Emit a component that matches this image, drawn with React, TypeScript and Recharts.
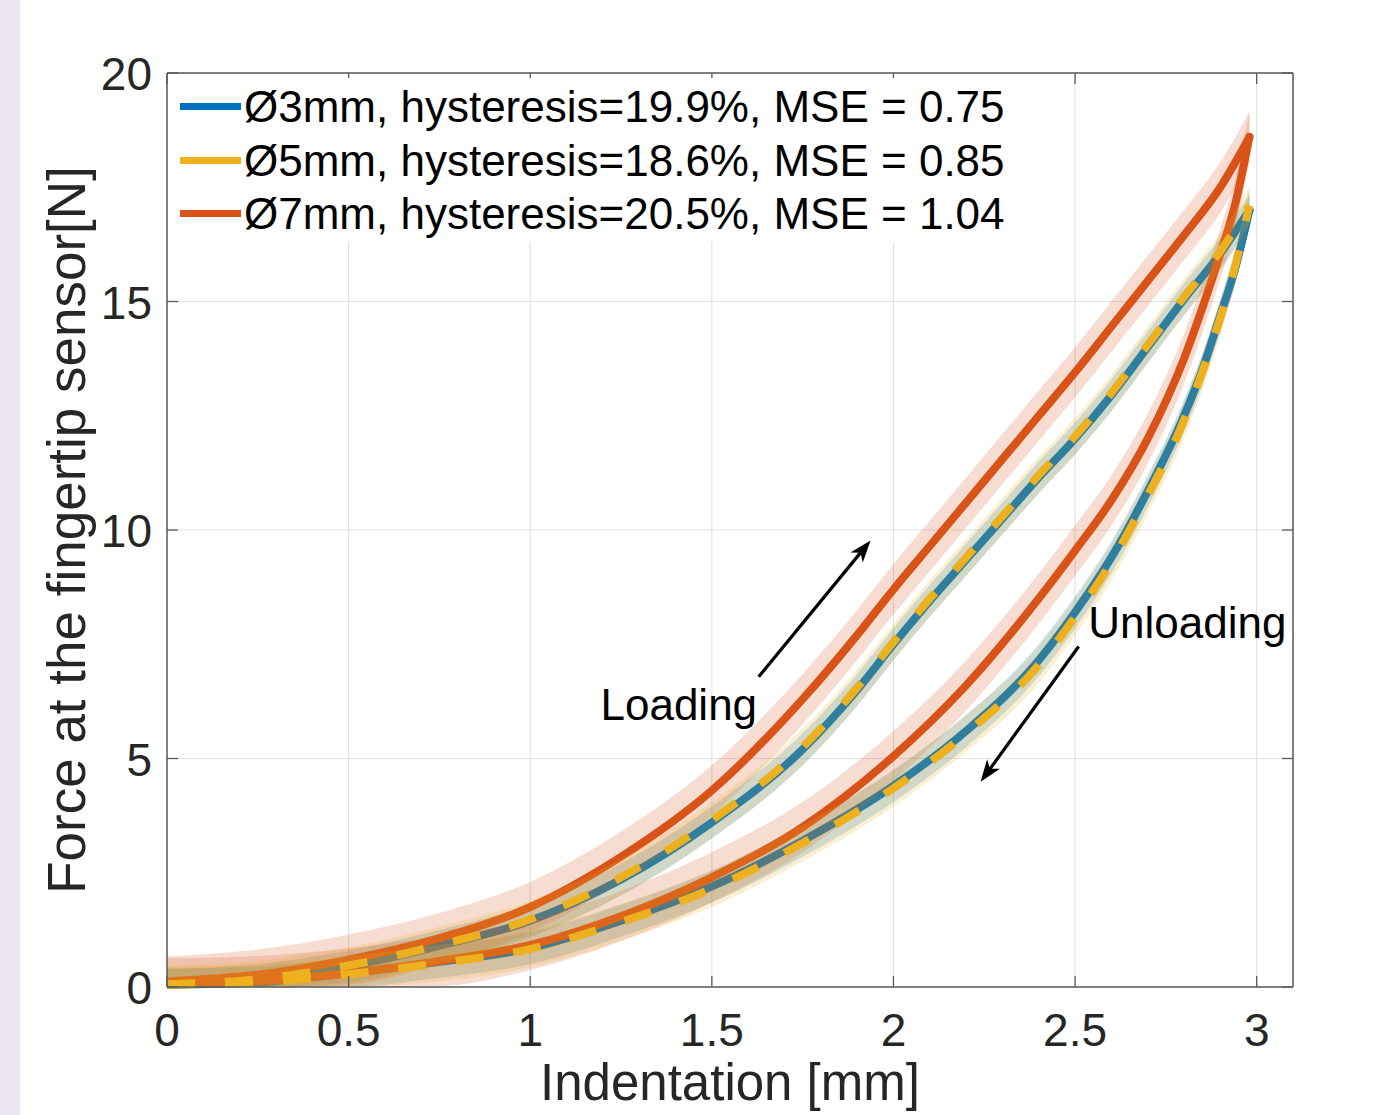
import React from 'react'
import {
  ComposedChart, Line, Area, XAxis, YAxis, CartesianGrid,
  ReferenceLine, ReferenceDot, Label
} from 'recharts'

// axis ticks
const X_TICKS = [0, 0.5, 1, 1.5, 2, 2.5, 3]
const Y_TICKS = [0, 5, 10, 15, 20]

// indentation [mm] sample points, loading (up) and unloading (down) branches
const LOAD_X = [0, 0.25, 0.5, 0.75, 1, 1.25, 1.5, 1.75, 1.9, 2, 2.1, 2.2, 2.3, 2.4, 2.5, 2.6, 2.7, 2.8, 2.9, 2.98]
const UNLOAD_X = [0, 0.25, 0.5, 0.75, 1, 1.25, 1.5, 1.75, 2, 2.2, 2.4, 2.5, 2.6, 2.7, 2.8, 2.85, 2.9, 2.94, 2.98]

// force [N], mean curves
const LOAD_3 = [0.05, 0.15, 0.45, 0.9, 1.45, 2.35, 3.6, 5.2, 6.5, 7.5, 8.45, 9.35, 10.25, 11.15, 12.0, 12.95, 14.0, 15.05, 16.05, 17.0]
const LOAD_5 = [0.06, 0.17, 0.47, 0.92, 1.48, 2.4, 3.65, 5.25, 6.55, 7.55, 8.5, 9.4, 10.3, 11.2, 12.05, 13.0, 14.05, 15.1, 16.1, 17.1]
const LOAD_7 = [0.12, 0.27, 0.6, 1.07, 1.75, 2.85, 4.3, 6.3, 7.7, 8.7, 9.65, 10.6, 11.55, 12.5, 13.45, 14.45, 15.45, 16.45, 17.5, 18.6]

const UNLOAD_3 = [0.05, 0.1, 0.3, 0.55, 0.85, 1.45, 2.2, 3.2, 4.4, 5.6, 7.15, 8.2, 9.4, 10.85, 12.5, 13.5, 14.7, 15.7, 17.0]
const UNLOAD_5 = [0.05, 0.1, 0.28, 0.52, 0.83, 1.42, 2.15, 3.15, 4.35, 5.55, 7.05, 8.1, 9.3, 10.75, 12.4, 13.45, 14.65, 15.75, 17.1]
const UNLOAD_7 = [0.08, 0.13, 0.3, 0.57, 0.92, 1.55, 2.4, 3.5, 5.05, 6.6, 8.5, 9.55, 10.65, 12.0, 13.75, 14.85, 16.05, 17.1, 18.6]

// half width of the shaded spread around each mean curve [N]
const SPREAD = { d3: 0.35, d5: 0.4, d7: 0.55 }

const LEGEND = [
  { label: 'Ø3mm, hysteresis=19.9%, MSE = 0.75', color: '#0072BD' },
  { label: 'Ø5mm, hysteresis=18.6%, MSE = 0.85', color: '#EDB120' },
  { label: 'Ø7mm, hysteresis=20.5%, MSE = 1.04', color: '#D95319' },
]

const ANNOTATIONS = [
  { text: 'Loading', x: 1.409, y: 5.84, from: { x: 1.629, y: 6.79 }, to: { x: 1.937, y: 9.77 } },
  { text: 'Unloading', x: 2.809, y: 7.64, from: { x: 2.51, y: 7.45 }, to: { x: 2.24, y: 4.49 } },
]

const AXIS_COLOR = '#5a5a5a'
const TEXT_COLOR = '#262626'
const GRID_COLOR = '#e2e2e2'
const TICK_LEN = 11
const FONT = '"Liberation Sans", Arial, Helvetica, sans-serif'

function branch(xs: number[], ys: number[], half: number) {
  return xs.map((x, i) => ({ x, f: ys[i], band: [Math.max(0, ys[i] - half), ys[i] + half] }))
}

// draw order: blue, orange, yellow (dashed on top)
const SERIES = [
  { key: 'd3', color: '#0072BD', load: branch(LOAD_X, LOAD_3, SPREAD.d3), unload: branch(UNLOAD_X, UNLOAD_3, SPREAD.d3), dashed: false },
  { key: 'd7', color: '#D95319', load: branch(LOAD_X, LOAD_7, SPREAD.d7), unload: branch(UNLOAD_X, UNLOAD_7, SPREAD.d7), dashed: false },
  { key: 'd5', color: '#EDB120', load: branch(LOAD_X, LOAD_5, SPREAD.d5), unload: branch(UNLOAD_X, UNLOAD_5, SPREAD.d5), dashed: true },
]

/* eslint-disable @typescript-eslint/no-explicit-any */
function BottomTick({ x, y, payload }: any) {
  return (
    <g>
      <line x1={x} y1={y} x2={x} y2={y - TICK_LEN} stroke={AXIS_COLOR} strokeWidth={1.3} />
      <text x={x} y={y + 59} textAnchor="middle" fontSize={46} fill={TEXT_COLOR}>{payload.value}</text>
    </g>
  )
}

function LeftTick({ x, y, payload }: any) {
  return (
    <g>
      <line x1={x} y1={y} x2={x + TICK_LEN} y2={y} stroke={AXIS_COLOR} strokeWidth={1.3} />
      <text x={x - 15} y={y + 17} textAnchor="end" fontSize={46} fill={TEXT_COLOR}>{payload.value}</text>
    </g>
  )
}

function TopTick({ x, y }: any) {
  return <line x1={x} y1={y} x2={x} y2={y + TICK_LEN} stroke={AXIS_COLOR} strokeWidth={1.3} />
}

function RightTick({ x, y }: any) {
  return <line x1={x} y1={y} x2={x - TICK_LEN} y2={y} stroke={AXIS_COLOR} strokeWidth={1.3} />
}

function Arrow(props: any) {
  const { x1, y1, x2, y2 } = props
  const a = Math.atan2(y2 - y1, x2 - x1)
  const c = Math.cos(a), s = Math.sin(a)
  const len = 22, half = 8, notch = 6
  const bx = x2 - len * c, by = y2 - len * s
  const nx = x2 - (len - notch) * c, ny = y2 - (len - notch) * s
  const pts = `${x2},${y2} ${bx - s * half},${by + c * half} ${nx},${ny} ${bx + s * half},${by - c * half}`
  return (
    <g>
      <line x1={x1} y1={y1} x2={nx} y2={ny} stroke="#000" strokeWidth={3.2} />
      <polygon points={pts} fill="#000" />
    </g>
  )
}
/* eslint-enable @typescript-eslint/no-explicit-any */

export default function App() {
  let z = 100
  return (
    <div style={{ position: 'relative', width: 1400, height: 1115, background: '#fff', fontFamily: FONT, overflow: 'hidden' }}>
      <style>{'body{margin:0}'}</style>
      <div style={{ position: 'absolute', left: 0, top: 0, width: 20, height: 1115, background: '#ede6f2' }} />

      <ComposedChart width={1400} height={1115} margin={{ top: 63, right: 97, bottom: 88, left: 107 }}>
        <CartesianGrid stroke={GRID_COLOR} strokeWidth={1.2} />
        <XAxis
          dataKey="x" type="number" domain={[0, 3.1]} ticks={X_TICKS} allowDataOverflow
          height={40} tickSize={0} tickMargin={0} tick={<BottomTick />}
          axisLine={{ stroke: AXIS_COLOR, strokeWidth: 1.5 }} tickLine={false}
        >
          <Label value="Indentation [mm]" position="bottom" offset={37} fontSize={51} fill={TEXT_COLOR} />
        </XAxis>
        <XAxis
          xAxisId="top" orientation="top" dataKey="x" type="number" domain={[0, 3.1]} ticks={X_TICKS} allowDataOverflow
          height={10} tickSize={0} tickMargin={0} tick={<TopTick />}
          axisLine={{ stroke: AXIS_COLOR, strokeWidth: 1.5 }} tickLine={false}
        />
        <YAxis
          type="number" domain={[0, 20]} ticks={Y_TICKS}
          width={60} tickSize={0} tickMargin={0} tick={<LeftTick />}
          axisLine={{ stroke: AXIS_COLOR, strokeWidth: 1.5 }} tickLine={false}
        >
          <Label
            value="Force at the fingertip sensor[N]" angle={-90} position="left" offset={41}
            fontSize={53} fill={TEXT_COLOR} style={{ textAnchor: 'middle' }}
          />
        </YAxis>
        <YAxis
          yAxisId="right" orientation="right" type="number" domain={[0, 20]} ticks={Y_TICKS} allowDataOverflow
          width={10} tickSize={0} tickMargin={0} tick={<RightTick />}
          axisLine={{ stroke: AXIS_COLOR, strokeWidth: 1.5 }} tickLine={false}
        />

        {SERIES.flatMap(s => [
          <Area key={s.key + '-bl'} data={s.load} dataKey="band" type="monotone" stroke="none"
            fill={s.color} fillOpacity={0.2} isAnimationActive={false} zIndex={z++} />,
          <Area key={s.key + '-bu'} data={s.unload} dataKey="band" type="monotone" stroke="none"
            fill={s.color} fillOpacity={0.2} isAnimationActive={false} zIndex={z++} />,
          <Line key={s.key + '-l'} data={s.load} dataKey="f" type="monotone" stroke={s.color}
            strokeWidth={8} dot={false} strokeLinecap={s.dashed ? 'butt' : 'round'}
            strokeDasharray={s.dashed ? '28 30' : undefined} isAnimationActive={false} zIndex={z++} />,
          <Line key={s.key + '-u'} data={s.unload} dataKey="f" type="monotone" stroke={s.color}
            strokeWidth={8} dot={false} strokeLinecap={s.dashed ? 'butt' : 'round'}
            strokeDasharray={s.dashed ? '28 30' : undefined} isAnimationActive={false} zIndex={z++} />,
        ])}

        {ANNOTATIONS.map(a => (
          <ReferenceLine key={a.text + '-arrow'} segment={[a.from, a.to]} shape={<Arrow />} zIndex={900} />
        ))}
        {ANNOTATIONS.map(a => (
          <ReferenceDot
            key={a.text} x={a.x} y={a.y} r={0} zIndex={900}
            shape={(p: { cx: number; cy: number }) => (
              <text x={p.cx} y={p.cy} textAnchor="middle" fontSize={44} fill="#000">{a.text}</text>
            )}
          />
        ))}
      </ComposedChart>

      {/* legend, white box inside the plot (covers the grid) */}
      <div style={{
        position: 'absolute', left: 170, top: 78, width: 842, height: 162,
        background: '#fff', paddingTop: 2
      }}>
        {LEGEND.map(l => (
          <div key={l.label} style={{ display: 'flex', alignItems: 'center', height: 53.5 }}>
            <span style={{ display: 'inline-block', width: 61, height: 7, marginLeft: 10, marginRight: 3, background: l.color }} />
            <span style={{ fontSize: 44, lineHeight: '53.5px', color: '#000', whiteSpace: 'nowrap' }}>{l.label}</span>
          </div>
        ))}
      </div>
    </div>
  )
}
